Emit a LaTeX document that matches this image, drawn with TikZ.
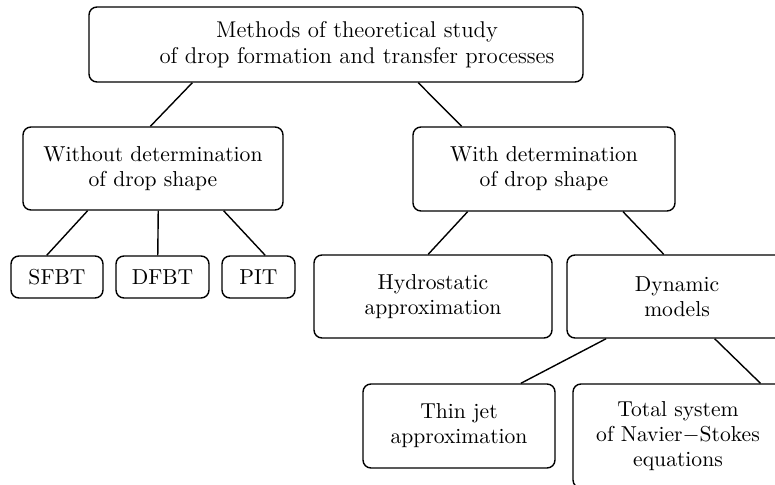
\documentclass[tikz,border=0pt]{standalone}
\usetikzlibrary{calc, positioning}

\tikzset{
    txt/.style={align=center, inner sep=0pt, font=\fontsize{10.8}{12.5}\selectfont},
    box/.style={txt, draw, rounded corners=4pt, line width=0.7pt},
    link/.style={line width=0.7pt}
}

\begin{document}
\begin{tikzpicture}[x=0.5pt, y=-0.5pt]
\useasboundingbox (0,0) rectangle (775,485);
\clip (0,0) rectangle (775,485);

% Top level
\node[box, minimum width=247pt, minimum height=37.5pt] (top) at (336,44.5) {};
\node[txt, font=\fontsize{11.4}{13}\selectfont] (toptext) at (357,44.5)
    {Methods of theoretical study\\of drop formation and transfer processes};

% Second level
\node[box, minimum width=130pt, minimum height=41.5pt] (without) at (153,168.5)
    {Without determination\\of drop shape};
\node[box, minimum width=131pt, minimum height=42pt] (with) at (544,169)
    {With determination\\of drop shape};

% Without shape
\node[box, minimum width=46pt, minimum height=21pt] (sfbt) at (57,277) {SFBT};
\node[box, minimum width=46.5pt, minimum height=21pt] (dfbt) at (162.5,277) {DFBT};
\node[box, minimum width=36.5pt, minimum height=21pt] (pit) at (258.5,277) {PIT};

% With shape
\node[box, minimum width=119pt, minimum height=41.5pt] (hydro) at (433,296.5)
    {Hydrostatic\\approximation};
\node[box, minimum width=110pt, minimum height=41.5pt] (dynamic) at (677,296.5)
    {Dynamic\\models};

% Dynamic models
\node[box, minimum width=96pt, minimum height=42pt] (thin) at (459,426)
    {Thin jet\\approximation};
\node[box, minimum width=105pt, minimum height=52pt] (total) at (678,436)
    {Total system\\of Navier$-$Stokes\\equations};

% Connectors
\foreach \a/\fa/\b/\fb in {top/.21/without/.49, top/.666/with/.187,
        without/.25/sfbt/.39, without/.52/dfbt/.45, without/.77/pit/.59,
        with/.21/hydro/.48, with/.80/dynamic/.44,
        dynamic/.18/thin/.82, dynamic/.67/total/.89}
    \draw[link] ($(\a.south west)!\fa!(\a.south east)$) -- ($(\b.north west)!\fb!(\b.north east)$);
\end{tikzpicture}
\end{document}
